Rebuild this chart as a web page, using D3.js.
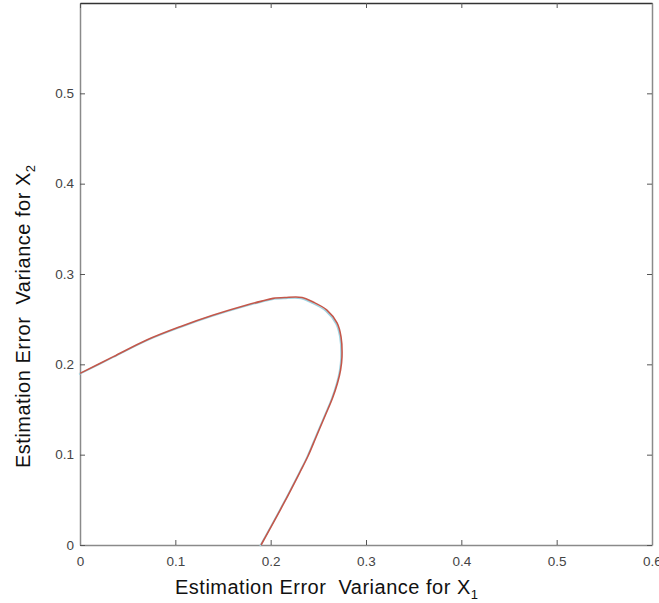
<!DOCTYPE html>
<html>
<head>
<meta charset="utf-8">
<script src="https://cdn.jsdelivr.net/npm/d3@7"></script>
<style>
  body { margin: 0; background: #fff; }
  text { font-family: "Liberation Sans", Arial, sans-serif; }
</style>
</head>
<body>
<div id="chart"></div>
<script>
// curve, from the y axis round to the x axis
const curveX = [0, 0.035, 0.07, 0.105, 0.14, 0.175, 0.1906, 0.2025, 0.215, 0.233, 0.2444, 0.259, 0.2696, 0.2738, 0.2748, 0.2733, 0.2701, 0.2649, 0.2570, 0.2481, 0.2392, 0.2308, 0.2140, 0.1899];
const curveY = [0.190, 0.2085, 0.227, 0.2417, 0.2546, 0.2657, 0.270, 0.273, 0.274, 0.274, 0.269, 0.260, 0.2458, 0.2303, 0.2081, 0.1937, 0.1793, 0.1627, 0.1428, 0.1207, 0.0985, 0.0808, 0.0465, 0];

const xTicks = [0, 0.1, 0.2, 0.3, 0.4, 0.5, 0.6];
const yTicks = [0, 0.1, 0.2, 0.3, 0.4, 0.5];

const width = 659, height = 603;
const plotLeft = 80, plotRight = 652, plotTop = 3, plotBottom = 545;

const svg = d3.select('#chart').append('svg')
    .attr('width', width)
    .attr('height', height);

const x = d3.scaleLinear().domain([0, 0.6]).range([plotLeft, plotRight]);
const y = d3.scaleLinear().domain([0, 0.6]).range([plotBottom, plotTop]);

const tickFmt = d => d === 0 ? '0' : d3.format('.1f')(d);

// axes (ticks point inward)
const xAxis = svg.append('g')
    .attr('transform', `translate(0,${plotBottom})`)
    .call(d3.axisBottom(x).tickValues(xTicks).tickSizeInner(-5).tickSizeOuter(0).tickPadding(11).tickFormat(tickFmt));
const yAxis = svg.append('g')
    .attr('transform', `translate(${plotLeft},0)`)
    .call(d3.axisLeft(y).tickValues(yTicks).tickSizeInner(-5).tickSizeOuter(0).tickPadding(11).tickFormat(tickFmt));
const xTop = svg.append('g')
    .attr('transform', `translate(0,${plotTop})`)
    .call(d3.axisTop(x).tickValues(xTicks).tickSizeInner(-5).tickSizeOuter(0).tickFormat(''));
const yRight = svg.append('g')
    .attr('transform', `translate(${plotRight},0)`)
    .call(d3.axisRight(y).tickValues(yTicks).tickSizeInner(-5).tickSizeOuter(0).tickFormat(''));

[xAxis, yAxis, xTop, yRight].forEach(g => {
    g.select('.domain').attr('stroke', '#8a8a8a').attr('stroke-width', 1.5);
    g.selectAll('.tick line').attr('stroke', '#555');
    g.selectAll('.tick text').attr('fill', '#444').style('font-size', '13.5px');
});
xTop.select('.domain').attr('stroke', '#333');
xAxis.selectAll('.tick text').attr('dy', '0.71em');
yAxis.selectAll('.tick text').attr('dx', '5');

// curve: pale cyan shadow under the red line
const pts = curveX.map((v, i) => [v, curveY[i]]);
const line = d3.line()
    .x(d => x(d[0]))
    .y(d => y(d[1]))
    .curve(d3.curveCatmullRom.alpha(0.5));

svg.append('path')
    .datum(pts)
    .attr('d', line)
    .attr('fill', 'none')
    .attr('stroke', '#9fd4e2')
    .attr('stroke-width', 1.6)
    .attr('transform', 'translate(-1,1)');

svg.append('path')
    .datum(pts)
    .attr('d', line)
    .attr('fill', 'none')
    .attr('stroke', '#c4574a')
    .attr('stroke-width', 1.6);

// axis labels
const xl = svg.append('text')
    .attr('x', 175)
    .attr('y', 594)
    .attr('fill', '#111')
    .style('font-size', '20px')
    .style('letter-spacing', '0.5px')
    .text('Estimation Error  Variance for X');
xl.append('tspan').attr('dy', 5).style('font-size', '13px').text('1');

const yl = svg.append('text')
    .attr('transform', 'translate(30,468) rotate(-90)')
    .attr('fill', '#111')
    .style('font-size', '20px')
    .style('letter-spacing', '0.5px')
    .text('Estimation Error  Variance for X');
yl.append('tspan').attr('dy', 5).style('font-size', '13px').text('2');

svg.selectAll('text').style('white-space', 'pre');
</script>
</body>
</html>
